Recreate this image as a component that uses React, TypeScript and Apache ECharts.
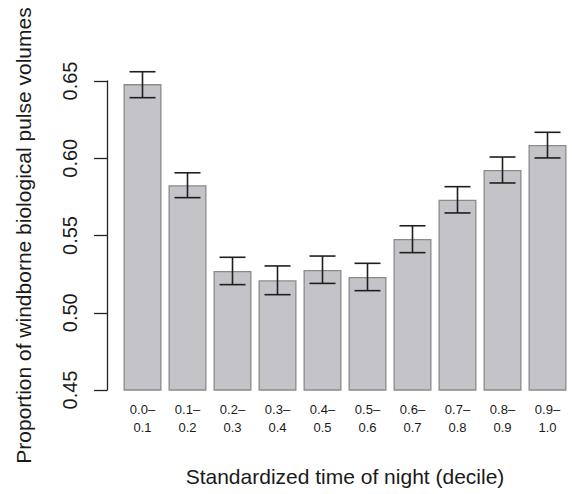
import React, { useEffect, useRef } from "react";
import * as echarts from "echarts";

const categories = ["0.0–\n0.1", "0.1–\n0.2", "0.2–\n0.3", "0.3–\n0.4", "0.4–\n0.5", "0.5–\n0.6", "0.6–\n0.7", "0.7–\n0.8", "0.8–\n0.9", "0.9–\n1.0"];
const means = [0.648, 0.5825, 0.527, 0.521, 0.5277, 0.5231, 0.5477, 0.5732, 0.5924, 0.6086];
const upper = [0.656, 0.5906, 0.5359, 0.5303, 0.5367, 0.532, 0.5563, 0.5816, 0.6008, 0.6168];
const lower = [0.6392, 0.5745, 0.5182, 0.5117, 0.519, 0.5143, 0.5389, 0.5646, 0.584, 0.6002];
const yMin = 0.45;
const yMax = 0.65;
const yStep = 0.05;

const FONT = "'Liberation Sans', Arial, Helvetica, sans-serif";
const TEXT = "#1a1a1a";

export default function App() {
  const ref = useRef<HTMLDivElement>(null);
  useEffect(() => {
    if (!ref.current) return;
    const chart = echarts.init(ref.current, undefined, { renderer: "svg" });
    const errData = categories.map((_, i) => [i, upper[i], lower[i]]);
    chart.setOption({
      animation: false,
      backgroundColor: "#ffffff",
      textStyle: { fontFamily: FONT, color: TEXT },
      grid: { left: 120, top: 81, width: 450, height: 309 },
      xAxis: {
        type: "category",
        data: categories,
        boundaryGap: true,
        axisLine: { show: false },
        axisTick: { show: false },
        axisLabel: {
          interval: 0,
          fontSize: 13,
          lineHeight: 18,
          margin: 10,
          color: TEXT,
          fontFamily: FONT,
        },
        name: "Standardized time of night (decile)",
        nameLocation: "middle",
        nameGap: 76,
        nameTextStyle: { fontSize: 21, color: TEXT, fontFamily: FONT },
      },
      yAxis: {
        type: "value",
        min: yMin,
        max: yMax,
        interval: yStep,
        offset: 13,
        splitLine: { show: false },
        axisLine: { show: true, lineStyle: { color: "#222", width: 1.3 } },
        axisTick: { show: true, length: 13, lineStyle: { color: "#222", width: 1.3 } },
        axisLabel: {
          rotate: 90,
          fontSize: 20,
          margin: 27,
          color: TEXT,
          fontFamily: FONT,
          formatter: (v: number) => v.toFixed(2),
        },
        name: "Proportion of windborne biological pulse volumes",
        nameLocation: "middle",
        nameRotate: 90,
        nameGap: 73,
        nameTextStyle: { fontSize: 21, color: TEXT, fontFamily: FONT },
      },
      series: [
        {
          type: "bar",
          data: means,
          barWidth: 38,
          itemStyle: { color: "#c4c4c8", borderColor: "#8a8a8a", borderWidth: 1.3 },
        },
        {
          type: "custom",
          data: errData,
          clip: false,
          renderItem: (params: any, api: any) => {
            const i = api.value(0);
            const hi = api.coord([i, api.value(1)]);
            const lo = api.coord([i, api.value(2)]);
            const half = 13;
            const style = { stroke: "#1f1f1f", lineWidth: 1.6 };
            return {
              type: "group",
              children: [
                { type: "line", shape: { x1: hi[0], y1: hi[1], x2: lo[0], y2: lo[1] }, style },
                { type: "line", shape: { x1: hi[0] - half, y1: hi[1], x2: hi[0] + half, y2: hi[1] }, style },
                { type: "line", shape: { x1: lo[0] - half, y1: lo[1], x2: lo[0] + half, y2: lo[1] }, style },
              ],
            };
          },
          z: 5,
        },
      ],
    });
    return () => chart.dispose();
  }, []);
  return (
    <div
      ref={ref}
      style={{ position: "absolute", left: 0, top: 0, width: 572, height: 494 }}
    />
  );
}
